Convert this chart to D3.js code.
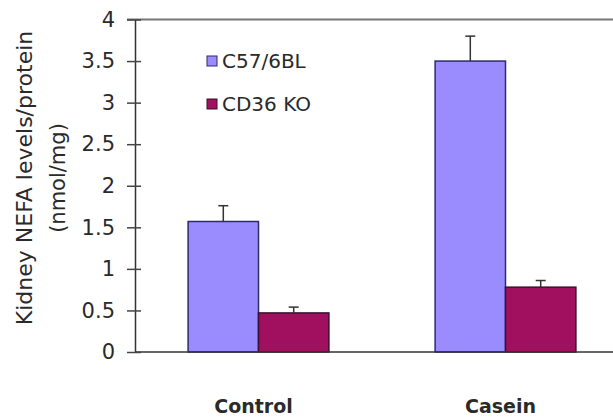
<!DOCTYPE html>
<html>
<head>
<meta charset="utf-8">
<script src="https://cdn.jsdelivr.net/npm/d3@7"></script>
<style>
  html, body { margin: 0; padding: 0; background: #fff; }
  svg { display: block; }
  text { font-family: "DejaVu Sans", sans-serif; fill: #2a2a2a; }
</style>
</head>
<body>
<svg id="chart" width="613" height="418"></svg>
<script>
const categories = ["Control", "Casein"];
const series = ["C57/6BL", "CD36 KO"];
const c57Values = [1.57, 3.50];
const c57Errors = [0.19, 0.30];
const cd36Values = [0.47, 0.78];
const cd36Errors = [0.07, 0.08];
const yTicks = [0, 0.5, 1, 1.5, 2, 2.5, 3, 3.5, 4];
const yTitleLines = ["Kidney NEFA levels/protein", "(nmol/mg)"];

const colors = { "C57/6BL": "#9a8cff", "CD36 KO": "#a0105e" };
const strokes = { "C57/6BL": "#2e2a6e", "CD36 KO": "#3a1030" };

const data = [];
categories.forEach((c, i) => {
  data.push({ cat: c, ser: series[0], v: c57Values[i], e: c57Errors[i] });
  data.push({ cat: c, ser: series[1], v: cd36Values[i], e: cd36Errors[i] });
});

const svg = d3.select("#chart");
const axisX = 135, y0 = 352, y1 = 19.5;

const y = d3.scaleLinear().domain([0, 4]).range([y0, y1]);
const x = d3.scaleBand().domain(categories).range([axisX, 629])
  .paddingInner(0.43).paddingOuter(0.215);
const xs = d3.scaleBand().domain(series).range([0, x.bandwidth()]).padding(0);

// top border line
svg.append("line")
  .attr("x1", axisX - 8).attr("x2", 613)
  .attr("y1", y(4)).attr("y2", y(4))
  .attr("stroke", "#777").attr("stroke-width", 2);

// bars
svg.append("g").selectAll("rect").data(data).join("rect")
  .attr("x", d => x(d.cat) + xs(d.ser))
  .attr("y", d => y(d.v))
  .attr("width", xs.bandwidth())
  .attr("height", d => y(0) - y(d.v))
  .attr("fill", d => colors[d.ser])
  .attr("stroke", d => strokes[d.ser])
  .attr("stroke-width", 1.5);

// error bars
const eg = svg.append("g").attr("stroke", "#333").attr("stroke-width", 1.5);
eg.selectAll("line.v").data(data).join("line").attr("class", "v")
  .attr("x1", d => x(d.cat) + xs(d.ser) + xs.bandwidth() / 2)
  .attr("x2", d => x(d.cat) + xs(d.ser) + xs.bandwidth() / 2)
  .attr("y1", d => y(d.v))
  .attr("y2", d => y(d.v + d.e));
eg.selectAll("line.c").data(data).join("line").attr("class", "c")
  .attr("x1", d => x(d.cat) + xs(d.ser) + xs.bandwidth() / 2 - 5)
  .attr("x2", d => x(d.cat) + xs(d.ser) + xs.bandwidth() / 2 + 5)
  .attr("y1", d => y(d.v + d.e))
  .attr("y2", d => y(d.v + d.e));

// x baseline
svg.append("line")
  .attr("x1", axisX).attr("x2", 613)
  .attr("y1", y(0)).attr("y2", y(0))
  .attr("stroke", "#333").attr("stroke-width", 1.5);

// y axis
const yAxis = d3.axisLeft(y).tickValues(yTicks).tickSizeInner(8).tickSizeOuter(0)
  .tickPadding(12).tickFormat(d => String(d));
const yg = svg.append("g").attr("transform", `translate(${axisX},0)`).call(yAxis);
yg.select(".domain").attr("stroke", "#333").attr("stroke-width", 1.5);
yg.selectAll(".tick line").attr("x1", 6).attr("stroke", "#444").attr("stroke-width", 1.5);
yg.selectAll(".tick text").style("font-family", "DejaVu Sans, sans-serif")
  .style("font-size", "21px").attr("fill", "#2a2a2a");

// category labels
svg.append("g").selectAll("text").data(categories).join("text")
  .attr("x", d => x(d) + x.bandwidth() / 2 - 5)
  .attr("y", 413)
  .attr("text-anchor", "middle")
  .style("font-size", "19px").style("font-weight", "bold")
  .text(d => d);

// y title
const titleX = [32, 65];
const titleSize = [22, 21];
svg.append("g").selectAll("text").data(yTitleLines).join("text")
  .attr("transform", (d, i) => `translate(${titleX[i]},178) rotate(-90)`)
  .attr("text-anchor", "middle")
  .style("font-size", (d, i) => titleSize[i] + "px")
  .text(d => d);

// legend
const legendY = [61, 104];
const lg = svg.append("g").selectAll("g").data(series).join("g")
  .attr("transform", (d, i) => `translate(207,${legendY[i]})`);
lg.append("rect").attr("x", 0).attr("y", -5).attr("width", 10).attr("height", 10)
  .attr("fill", d => colors[d]).attr("stroke", d => strokes[d]).attr("stroke-width", 1);
lg.append("text").attr("x", 15).attr("dy", "0.36em")
  .style("font-size", "20px").text(d => d);
</script>
</body>
</html>
